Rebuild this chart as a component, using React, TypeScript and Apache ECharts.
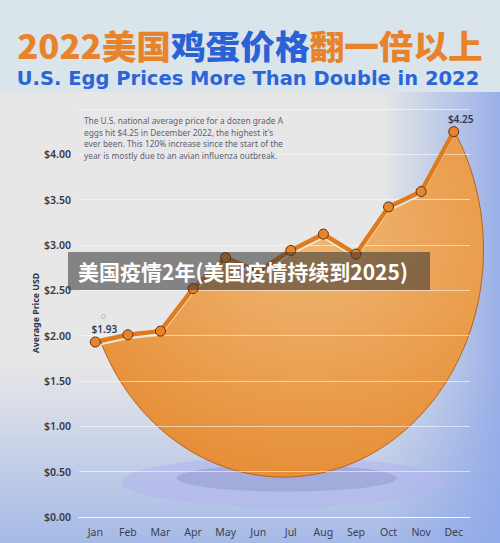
import React, { useEffect, useRef } from "react";
import * as echarts from "echarts";

const months = ["Jan", "Feb", "Mar", "Apr", "May", "Jun", "Jul", "Aug", "Sep", "Oct", "Nov", "Dec"];
const prices = [1.93, 2.01, 2.05, 2.52, 2.86, 2.71, 2.94, 3.12, 2.9, 3.42, 3.59, 4.25];
const yTickValues = [0, 0.5, 1, 1.5, 2, 2.5, 3, 3.5, 4];
const labelledMonths = ["Jan", "Dec"];

const titleCn = "{o|2022美国}{b|鸡蛋价格}{o|翻一倍以上}";
const titleEn = "U.S. Egg Prices More Than Double in 2022";
const note = [
  "The U.S. national average price for a dozen grade A",
  "eggs hit $4.25 in December 2022, the highest it's",
  "ever been. This 120% increase since the start of the",
  "year is mostly due to an avian influenza outbreak.",
];
const banner = "美国疫情2年(美国疫情持续到2025)";

export default function App() {
  const ref = useRef<HTMLDivElement>(null);

  useEffect(() => {
    if (!ref.current) return;
    const chart = echarts.init(ref.current, null, { renderer: "svg" });

    const renderEgg = (params: any, api: any) => {
      const pts = prices.map((v, i) => api.coord([i, v]));
      const jan = pts[0];
      const dec = pts[pts.length - 1];
      const bottomY = api.coord([0, 0.44])[1];
      const cy = api.coord([0, 2.95])[1];
      const cx = (jan[0] + dec[0]) / 2 + 9;
      const rx = 200;
      const ry = bottomY - cy;
      const top = pts.map((p) => [p[0], p[1] + 4]);
      const ang = (p: number[]) => Math.atan2((p[1] - cy) / ry, (p[0] - cx) / rx);
      const a0 = ang(top[top.length - 1]);
      const a1 = ang(top[0]);
      const arc: number[][] = [];
      const n = 80;
      for (let k = 0; k <= n; k++) {
        const a = a0 + ((a1 - a0) * k) / n;
        arc.push([cx + rx * Math.cos(a), cy + ry * Math.sin(a)]);
      }
      const poly = top.concat(arc);
      const ell = (ex: number, ey: number, erx: number, ery: number) =>
        `M ${ex - erx} ${ey} A ${erx} ${ery} 0 1 0 ${ex + erx} ${ey} A ${erx} ${ery} 0 1 0 ${ex - erx} ${ey} Z`;
      return {
        type: "group",
        children: [
          {
            type: "path",
            shape: { pathData: ell(cx, bottomY + 5, 162, 25) },
            style: { fill: "rgba(178,182,236,0.6)" },
          },
          {
            type: "path",
            shape: { pathData: ell(cx + 3, bottomY + 1, 110, 13.5) },
            style: { fill: "rgba(140,146,205,0.45)" },
          },
          {
            type: "polygon",
            shape: { points: poly },
            style: {
              fill: new echarts.graphic.RadialGradient(0.55, 0.3, 0.85, [
                { offset: 0, color: "#efb877" },
                { offset: 0.6, color: "#e99a48" },
                { offset: 1, color: "#e4852b" },
              ]),
            },
          },
          {
            type: "polyline",
            shape: { points: arc },
            style: { fill: null, stroke: "#b9621c", lineWidth: 1 },
          },
          {
            type: "polyline",
            shape: { points: top },
            style: { fill: null, stroke: "#f6e2c2", lineWidth: 1.2 },
          },
        ],
      };
    };

    const option: any = {
      animation: false,
      backgroundColor: "#e7e7e7",
      grid: { left: 79, right: 30, top: 109, bottom: 26 },
      xAxis: {
        type: "category",
        data: months,
        z: 3,
        axisLine: { lineStyle: { color: "rgba(255,255,255,0.75)" } },
        axisTick: { alignWithLabel: true, lineStyle: { color: "rgba(255,255,255,0.75)" } },
        axisLabel: { color: "#3a4052", fontSize: 10.5, fontFamily: "Noto Sans", margin: 9 },
      },
      yAxis: {
        type: "value",
        min: 0,
        max: 4.5,
        interval: 0.5,
        z: 3,
        name: "Average Price USD",
        nameLocation: "middle",
        nameGap: 39,
        nameMoveOverlap: false,
        nameRotate: 90,
        nameTextStyle: { color: "#2d3446", fontSize: 8.8, fontWeight: "bold", fontFamily: "Noto Sans" },
        axisLine: { show: false },
        axisTick: { show: false },
        splitLine: { lineStyle: { color: "rgba(255,255,255,0.55)", width: 1 } },
        axisLabel: {
          color: "#333a4c",
          fontSize: 10.5,
          fontWeight: 600,
          fontFamily: "Noto Sans",
          margin: 8,
          formatter: (v: number) => (yTickValues.indexOf(v) >= 0 ? "$" + v.toFixed(2) : ""),
        },
      },
      series: [
        {
          type: "custom",
          z: 1,
          silent: true,
          data: [[0, prices[0]]],
          renderItem: renderEgg,
        },
        {
          type: "line",
          z: 4,
          data: prices.map((v, i) => {
            const show = labelledMonths.indexOf(months[i]) >= 0;
            return {
              value: v,
              label: show
                ? {
                    show: true,
                    position: "top",
                    offset: i === 0 ? [9, 2] : [7, 3],
                    formatter: "$" + v.toFixed(2),
                    color: "#2f3a55",
                    fontSize: 10,
                    fontWeight: 600,
                    fontFamily: "Noto Sans",
                  }
                : { show: false },
            };
          }),
          symbol: "circle",
          symbolSize: 10,
          lineStyle: { color: "#df7a1f", width: 4.5 },
          itemStyle: { color: "#e8852a", borderColor: "#5a2e12", borderWidth: 1 },
        },
      ],
      graphic: [
        {
          type: "rect",
          z: -10,
          shape: { x: 0, y: 92, width: 500, height: 451 },
          style: {
            fill: new echarts.graphic.LinearGradient(0, 0, 0, 1, [
              { offset: 0, color: "rgba(150,175,232,0)" },
              { offset: 0.6, color: "rgba(150,175,232,0)" },
              { offset: 1, color: "rgba(150,175,232,0.8)" },
            ]),
          },
        },
        {
          type: "rect",
          z: -9,
          shape: { x: 380, y: 92, width: 120, height: 451 },
          style: {
            fill: new echarts.graphic.LinearGradient(0, 0, 1, 0, [
              { offset: 0, color: "rgba(140,166,232,0)" },
              { offset: 1, color: "rgba(140,166,232,0.85)" },
            ]),
          },
        },
        {
          type: "rect",
          z: -8,
          shape: { x: 0, y: 0, width: 500, height: 92 },
          style: { fill: "#d9e5eb" },
        },
        {
          type: "text",
          z: 10,
          x: 250,
          y: 45,
          scaleX: 1.05,
          style: {
            text: titleCn,
            align: "center",
            verticalAlign: "middle",
            fontSize: 33,
            lineHeight: 33,
            fontWeight: 900,
            fontFamily: "Noto Sans CJK SC",
            rich: {
              o: { fill: "#e8832b", fontSize: 33, lineHeight: 33, fontWeight: 900, fontFamily: "Noto Sans CJK SC" },
              b: { fill: "#2a62d6", fontSize: 33, lineHeight: 33, fontWeight: 900, fontFamily: "Noto Sans CJK SC" },
            },
          },
        },
        {
          type: "text",
          z: 10,
          x: 248,
          y: 78,
          style: {
            text: titleEn,
            align: "center",
            verticalAlign: "middle",
            fontSize: 19.5,
            lineHeight: 19.5,
            fontWeight: "bold",
            fontFamily: "DejaVu Sans",
            fill: "#2c65d8",
          },
        },
        {
          type: "text",
          z: 10,
          x: 84,
          y: 138,
          style: {
            text: note.join("\n"),
            align: "left",
            verticalAlign: "middle",
            fontSize: 8.3,
            lineHeight: 11.4,
            fontFamily: "Noto Sans",
            fill: "#5d6275",
          },
        },
        {
          type: "circle",
          z: 10,
          shape: { cx: 103.5, cy: 316.5, r: 2 },
          style: { fill: "none", stroke: "#9aa8c8", lineWidth: 0.8 },
        },
        {
          type: "rect",
          z: 100,
          shape: { x: 68, y: 252, width: 362, height: 38 },
          style: { fill: "rgba(50,50,50,0.55)" },
        },
        {
          type: "text",
          z: 101,
          x: 78,
          y: 271,
          style: {
            text: banner,
            align: "left",
            verticalAlign: "middle",
            fontSize: 21,
            fontWeight: "bold",
            fontFamily: "Noto Sans CJK SC",
            fill: "#ffffff",
          },
        },
      ],
    };

    chart.setOption(option);
    return () => chart.dispose();
  }, []);

  return <div ref={ref} style={{ width: 500, height: 543, position: "absolute", left: 0, top: 0 }} />;
}
